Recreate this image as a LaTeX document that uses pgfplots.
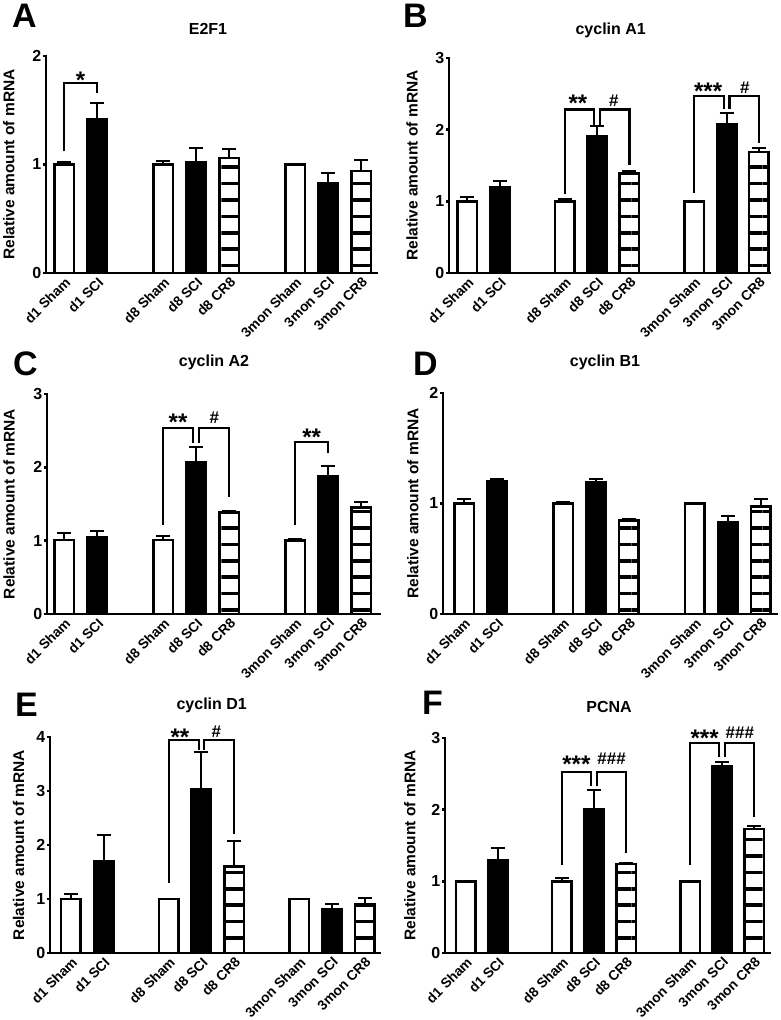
\documentclass[border=0pt]{standalone}
\usepackage{fontspec}
\setmainfont{Liberation Sans}
\usepackage{pgfplots}
\pgfplotsset{compat=1.18}
\usetikzlibrary{patterns.meta}
\pgfplotsset{
 base/.style={
  scale only axis, clip=false,
  axis lines=left, axis line style={-, line width=2.5pt, line cap=rect},
  ymin=0,
  xtick={0,1,3,4,5,7,8,9},
  xticklabels={d1 Sham,d1 SCI,d8 Sham,d8 SCI,d8 CR8,3mon Sham,3mon SCI,3mon CR8},
  x tick label style={rotate=45, anchor=north east, inner sep=0pt, font=\fontsize{13.8}{16}\selectfont\bfseries},
  x tick style={draw=none},
  y tick style={line width=2.5pt, black},
  tick align=outside, major tick length=3pt,
  ytick pos=left,
  /pgf/number format/assume math mode=true,
  y tick label style={font=\fontsize{16}{18}\selectfont\bfseries, inner xsep=1.5pt},
  ylabel={Relative amount of mRNA},
  ylabel style={font=\fontsize{15.5}{17}\selectfont\bfseries},
 },
 ylabx/.style={ylabel style={at={(axis description cs:#1,0.5)}, anchor=center}},
 barbase/.style={ybar, bar width=19.5pt, bar shift=0pt, draw=black, line width=2.5pt,
   error bars/y dir=plus, error bars/y explicit,
   error bars/error mark=-,
   error bars/error bar style={line width=2pt, black},
   error bars/error mark options={rotate=90, line width=2pt, mark size=7pt, black}},
 sham/.style={barbase, fill=white},
 sci/.style={barbase, fill=black},
 cr8/.style={barbase, preaction={fill=white}, preaction={pattern={Lines[angle=0,distance=16.4pt,line width=3.6pt]}}},
 br/.style={black, line width=2.2pt, mark=none, forget plot},
}
\tikzset{
 star/.style={font=\fontsize{24}{24}\selectfont\bfseries, anchor=base, yshift=-13.8pt, inner sep=0pt},
 hash/.style={font=\fontsize{17}{17}\selectfont\bfseries, anchor=base, yshift=-6pt, inner sep=0pt},
 plet/.style={anchor=base west, inner sep=0pt, font=\fontsize{34}{34}\selectfont\bfseries},
 ptit/.style={anchor=base, inner sep=0pt, font=\fontsize{16}{16}\selectfont\bfseries},
}
\begin{document}
\begin{tikzpicture}
% ---------------- A: E2F1
\begin{axis}[base, at={(46pt,747pt)}, anchor=south west, width=331pt, height=217pt,
  xmin=-0.55, xmax=9.48, ymax=2, ytick={0,1,2}, ylabx=-0.112]
\addplot[sham] coordinates {(0,1.00) +- (0,0.02) (3,1.00) +- (0,0.03) (7,1.00) +- (0,0.005)};
\addplot[sci] coordinates {(1,1.42) +- (0,0.15) (4,1.02) +- (0,0.13) (8,0.83) +- (0,0.09)};
\addplot[cr8] coordinates {(5,1.06) +- (0,0.08) (9,0.94) +- (0,0.10)};
\addplot[br] coordinates {(0,1.12) (0,1.75) (1,1.75) (1,1.66)};
\node[star] at (axis cs:0.5,1.83) {*};
\end{axis}
% ---------------- B: cyclin A1
\begin{axis}[base, at={(449pt,747pt)}, anchor=south west, width=321pt, height=215pt,
  xmin=-0.57, xmax=9.34, ymax=3, ytick={0,1,2,3}, ylabx=-0.115]
\addplot[sham] coordinates {(0,1.00) +- (0,0.06) (3,1.00) +- (0,0.03) (7,1.00) +- (0,0.01)};
\addplot[sci] coordinates {(1,1.20) +- (0,0.08) (4,1.91) +- (0,0.14) (8,2.08) +- (0,0.15)};
\addplot[cr8] coordinates {(5,1.39) +- (0,0.03) (9,1.69) +- (0,0.06)};
\addplot[br] coordinates {(3,1.10) (3,2.28) (3.91,2.28) (3.91,2.065)};
\addplot[br] coordinates {(4.09,2.065) (4.09,2.28) (5,2.28) (5,1.50)};
\addplot[br] coordinates {(7,1.12) (7,2.47) (7.91,2.47) (7.91,2.29)};
\addplot[br] coordinates {(8.09,2.29) (8.09,2.47) (9,2.47) (9,1.81)};
\node[star] at (axis cs:3.41,2.44) {**};
\node[hash] at (axis cs:4.52,2.40) {\#};
\node[star] at (axis cs:7.43,2.61) {***};
\node[hash] at (axis cs:8.56,2.59) {\#};
\end{axis}
% ---------------- C: cyclin A2
\begin{axis}[base, at={(47pt,406pt)}, anchor=south west, width=333pt, height=220pt,
  xmin=-0.52, xmax=9.57, ymax=3, ytick={0,1,2,3}, ylabx=-0.114]
\addplot[sham] coordinates {(0,1.01) +- (0,0.10) (3,1.01) +- (0,0.055) (7,1.00) +- (0,0.025)};
\addplot[sci] coordinates {(1,1.05) +- (0,0.08) (4,2.07) +- (0,0.21) (8,1.875) +- (0,0.145)};
\addplot[cr8] coordinates {(5,1.385) +- (0,0.015) (9,1.45) +- (0,0.08)};
\addplot[br] coordinates {(3,1.215) (3,2.54) (3.91,2.54) (3.91,2.33)};
\addplot[br] coordinates {(4.09,2.33) (4.09,2.54) (5,2.54) (5,1.60)};
\addplot[br] coordinates {(7,1.215) (7,2.35) (8,2.35) (8,2.20)};
\node[star] at (axis cs:3.45,2.69) {**};
\node[hash] at (axis cs:4.55,2.68) {\#};
\node[star] at (axis cs:7.5,2.48) {**};
\end{axis}
% ---------------- D: cyclin B1
\begin{axis}[base, at={(443pt,406pt)}, anchor=south west, width=334pt, height=221pt,
  xmin=-0.64, xmax=9.49, ymax=2, ytick={0,1,2}, ylabx=-0.09]
\addplot[sham] coordinates {(0,1.00) +- (0,0.04) (3,1.00) +- (0,0.015) (7,1.00) +- (0,0.005)};
\addplot[sci] coordinates {(1,1.205) +- (0,0.015) (4,1.19) +- (0,0.03) (8,0.83) +- (0,0.06)};
\addplot[cr8] coordinates {(5,0.845) +- (0,0.015) (9,0.975) +- (0,0.065)};
\end{axis}
% ---------------- E: cyclin D1
\begin{axis}[base, at={(50pt,67pt)}, anchor=south west, width=330pt, height=216pt,
  xmin=-0.64, xmax=9.47, ymax=4, ytick={0,1,2,3,4}, ylabx=-0.095]
\addplot[sham] coordinates {(0,1.00) +- (0,0.10) (3,1.00) +- (0,0) (7,1.00) +- (0,0)};
\addplot[sci] coordinates {(1,1.70) +- (0,0.48) (4,3.03) +- (0,0.70) (8,0.81) +- (0,0.09)};
\addplot[cr8] coordinates {(5,1.60) +- (0,0.47) (9,0.91) +- (0,0.11)};
\addplot[br] coordinates {(3,1.30) (3,3.94) (3.92,3.94) (3.92,3.76)};
\addplot[br] coordinates {(4.08,3.76) (4.08,3.94) (5,3.94) (5,2.20)};
\node[star] at (axis cs:3.34,4.10) {**};
\node[hash] at (axis cs:4.46,4.10) {\#};
\end{axis}
% ---------------- F: PCNA
\begin{axis}[base, at={(445pt,67pt)}, anchor=south west, width=325pt, height=215pt,
  xmin=-0.65, xmax=9.49, ymax=3, ytick={0,1,2,3}, ylabx=-0.108]
\addplot[sham] coordinates {(0,1.00) +- (0,0) (3,1.00) +- (0,0.04) (7,1.00) +- (0,0)};
\addplot[sci] coordinates {(1,1.30) +- (0,0.17) (4,2.00) +- (0,0.28) (8,2.61) +- (0,0.06)};
\addplot[cr8] coordinates {(5,1.24) +- (0,0.02) (9,1.73) +- (0,0.045)};
\addplot[br] coordinates {(3,1.227) (3,2.53) (3.91,2.53) (3.91,2.33)};
\addplot[br] coordinates {(4.09,2.33) (4.09,2.53) (5,2.53) (5,1.40)};
\addplot[br] coordinates {(7,1.227) (7,2.93) (7.91,2.93) (7.91,2.73)};
\addplot[br] coordinates {(8.09,2.73) (8.09,2.93) (9,2.93) (9,1.904)};
\node[star] at (axis cs:3.45,2.71) {***};
\node[hash] at (axis cs:4.55,2.71) {\#\#\#};
\node[star] at (axis cs:7.45,3.07) {***};
\node[hash] at (axis cs:8.55,3.07) {\#\#\#};
\end{axis}
% ---------------- letters and titles
\node[plet] at (12pt,992pt) {A};
\node[plet] at (403pt,992pt) {B};
\node[plet] at (13pt,644pt) {C};
\node[plet] at (413pt,644pt) {D};
\node[plet] at (15pt,303pt) {E};
\node[plet] at (422pt,305pt) {F};
\node[ptit] at (208pt,985pt) {E2F1};
\node[ptit] at (610.7pt,985pt) {cyclin A1};
\node[ptit] at (214pt,653pt) {cyclin A2};
\node[ptit] at (605pt,653pt) {cyclin B1};
\node[ptit] at (211.7pt,310pt) {cyclin D1};
\node[ptit] at (609pt,307pt) {PCNA};
\pgfresetboundingbox
\path[use as bounding box] (0,0) rectangle (780pt,1020pt);
\end{tikzpicture}
\end{document}
